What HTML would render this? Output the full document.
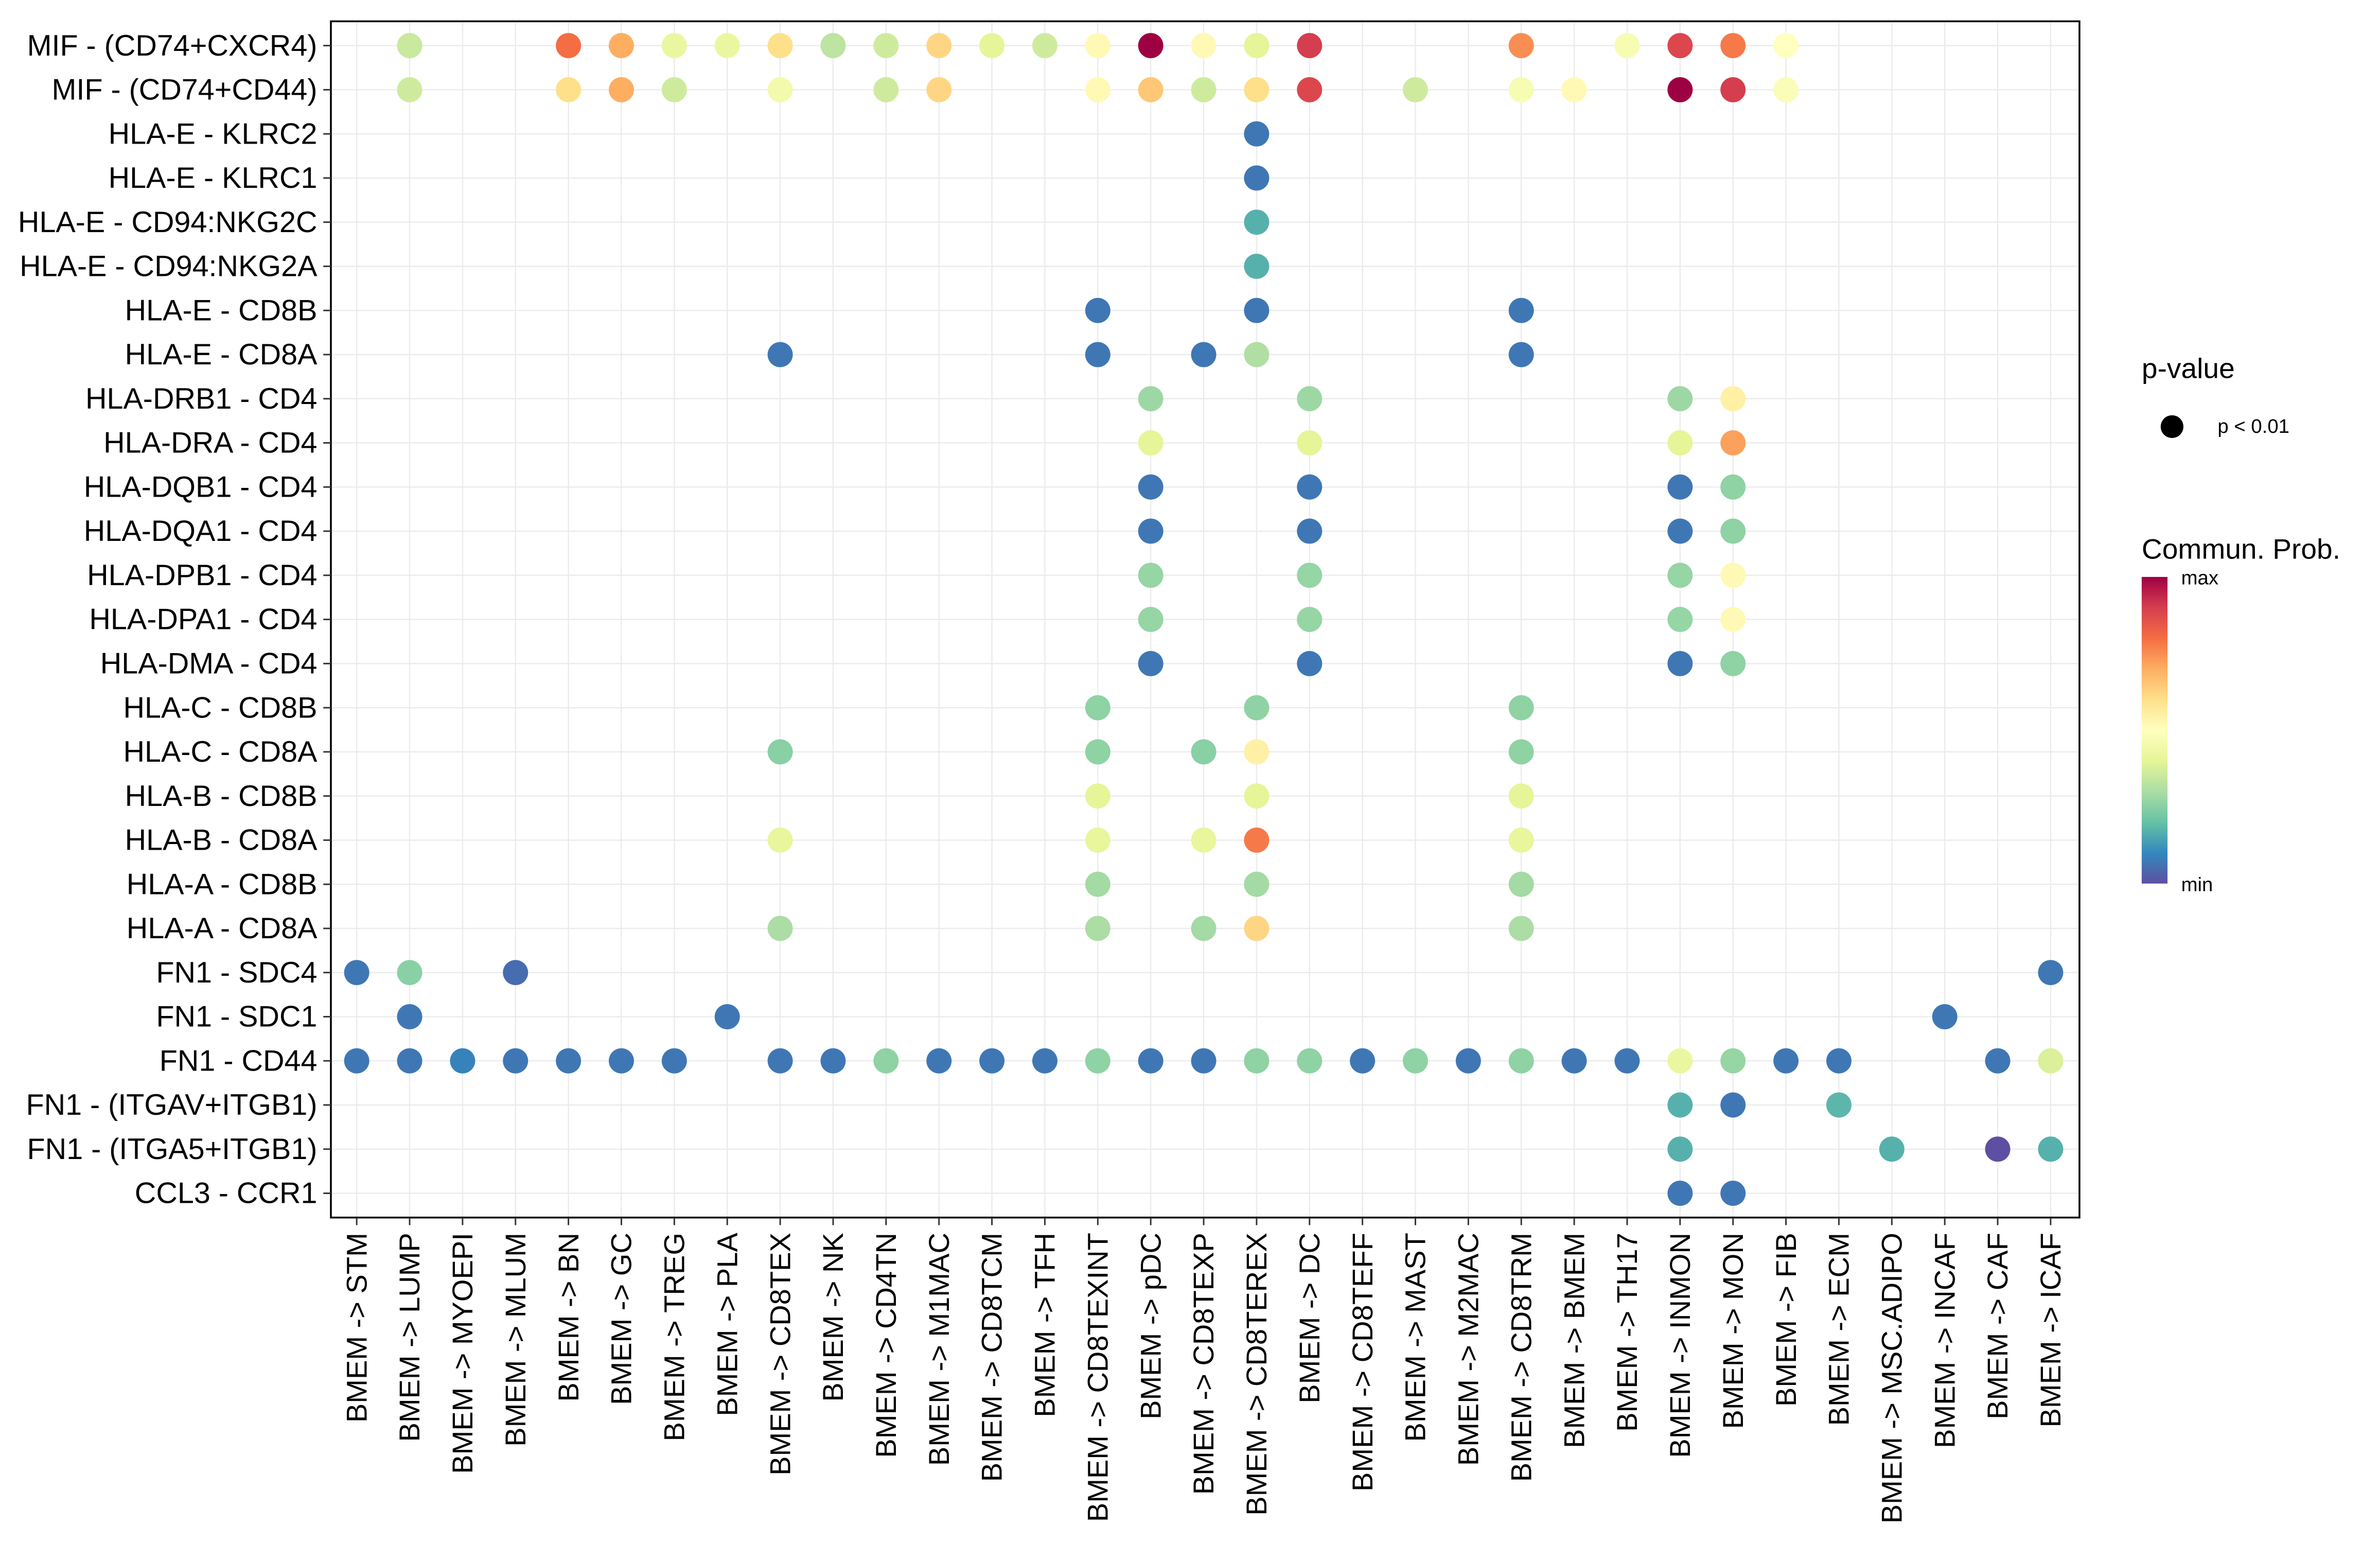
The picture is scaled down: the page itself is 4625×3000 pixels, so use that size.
<!DOCTYPE html>
<html><head><meta charset="utf-8">
<style>
html,body{margin:0;padding:0;background:#fff;}
svg{display:block;font-family:"Liberation Sans",Arial,sans-serif;}
</style></head>
<body>
<svg id="chart" width="4625" height="3000" viewBox="0 0 1568 1017" xmlns="http://www.w3.org/2000/svg">
<rect x="0" y="0" width="1568" height="1017" fill="#fff"/>
<g id="grid"></g>
<g id="dots"></g>
<rect x="218" y="14" width="1152" height="788" fill="none" stroke="#000" stroke-width="1.2"/>
<g id="ylabels"></g>
<g id="xlabels"></g>
<g>
  <text x="1411" y="249" font-size="18.7">p-value</text>
  <circle cx="1431" cy="281" r="7.5" fill="#000"/>
  <text x="1461" y="285" font-size="13">p &lt; 0.01</text>
  <text x="1411" y="368" font-size="18.7">Commun. Prob.</text>
  <defs><linearGradient id="cb" x1="0" y1="1" x2="0" y2="0">
    <stop offset="0" stop-color="#5E4FA2"/><stop offset="0.1" stop-color="#3288BD"/>
    <stop offset="0.2" stop-color="#66C2A5"/><stop offset="0.3" stop-color="#ABDDA4"/>
    <stop offset="0.4" stop-color="#E6F598"/><stop offset="0.5" stop-color="#FFFFBF"/>
    <stop offset="0.6" stop-color="#FEE08B"/><stop offset="0.7" stop-color="#FDAE61"/>
    <stop offset="0.8" stop-color="#F46D43"/><stop offset="0.9" stop-color="#D53E4F"/>
    <stop offset="1" stop-color="#9E0142"/></linearGradient></defs>
  <rect x="1411" y="380" width="17" height="202" fill="url(#cb)"/>
  <text x="1437" y="385" font-size="13">max</text>
  <text x="1437" y="587" font-size="13">min</text>
</g>
<script>
const pathways = ["MIF - (CD74+CXCR4)","MIF - (CD74+CD44)","HLA-E - KLRC2","HLA-E - KLRC1","HLA-E - CD94:NKG2C","HLA-E - CD94:NKG2A","HLA-E - CD8B","HLA-E - CD8A","HLA-DRB1 - CD4","HLA-DRA - CD4","HLA-DQB1 - CD4","HLA-DQA1 - CD4","HLA-DPB1 - CD4","HLA-DPA1 - CD4","HLA-DMA - CD4","HLA-C - CD8B","HLA-C - CD8A","HLA-B - CD8B","HLA-B - CD8A","HLA-A - CD8B","HLA-A - CD8A","FN1 - SDC4","FN1 - SDC1","FN1 - CD44","FN1 - (ITGAV+ITGB1)","FN1 - (ITGA5+ITGB1)","CCL3 - CCR1"];
const targets = ["STM","LUMP","MYOEPI","MLUM","BN","GC","TREG","PLA","CD8TEX","NK","CD4TN","M1MAC","CD8TCM","TFH","CD8TEXINT","pDC","CD8TEXP","CD8TEREX","DC","CD8TEFF","MAST","M2MAC","CD8TRM","BMEM","TH17","INMON","MON","FIB","ECM","MSC.ADIPO","INCAF","CAF","ICAF"];
const rowTargets = [
 ["LUMP","BN","GC","TREG","PLA","CD8TEX","NK","CD4TN","M1MAC","CD8TCM","TFH","CD8TEXINT","pDC","CD8TEXP","CD8TEREX","DC","CD8TRM","TH17","INMON","MON","FIB"],
 ["LUMP","BN","GC","TREG","CD8TEX","CD4TN","M1MAC","CD8TEXINT","pDC","CD8TEXP","CD8TEREX","DC","MAST","CD8TRM","BMEM","INMON","MON","FIB"],
 ["CD8TEREX"],["CD8TEREX"],["CD8TEREX"],["CD8TEREX"],
 ["CD8TEXINT","CD8TEREX","CD8TRM"],
 ["CD8TEX","CD8TEXINT","CD8TEXP","CD8TEREX","CD8TRM"],
 ["pDC","DC","INMON","MON"],["pDC","DC","INMON","MON"],["pDC","DC","INMON","MON"],["pDC","DC","INMON","MON"],
 ["pDC","DC","INMON","MON"],["pDC","DC","INMON","MON"],["pDC","DC","INMON","MON"],
 ["CD8TEXINT","CD8TEREX","CD8TRM"],
 ["CD8TEX","CD8TEXINT","CD8TEXP","CD8TEREX","CD8TRM"],
 ["CD8TEXINT","CD8TEREX","CD8TRM"],
 ["CD8TEX","CD8TEXINT","CD8TEXP","CD8TEREX","CD8TRM"],
 ["CD8TEXINT","CD8TEREX","CD8TRM"],
 ["CD8TEX","CD8TEXINT","CD8TEXP","CD8TEREX","CD8TRM"],
 ["STM","LUMP","MLUM","ICAF"],
 ["LUMP","PLA","INCAF"],
 ["STM","LUMP","MYOEPI","MLUM","BN","GC","TREG","CD8TEX","NK","CD4TN","M1MAC","CD8TCM","TFH","CD8TEXINT","pDC","CD8TEXP","CD8TEREX","DC","CD8TEFF","MAST","M2MAC","CD8TRM","BMEM","TH17","INMON","MON","FIB","ECM","CAF","ICAF"],
 ["INMON","MON","ECM"],
 ["INMON","MSC.ADIPO","CAF","ICAF"],
 ["INMON","MON"]
];
const rowProbs = [
 [0.35,0.80,0.70,0.42,0.42,0.60,0.33,0.36,0.62,0.40,0.36,0.52,1.00,0.52,0.40,0.90,0.75,0.47,0.88,0.78,0.50],
 [0.36,0.60,0.70,0.36,0.45,0.36,0.62,0.52,0.65,0.36,0.60,0.88,0.36,0.47,0.52,1.00,0.90,0.48],
 [0.07],[0.07],[0.17],[0.17],
 [0.07,0.07,0.07],
 [0.07,0.07,0.07,0.31,0.07],
 [0.28,0.28,0.28,0.55],[0.40,0.40,0.40,0.72],[0.07,0.07,0.07,0.26],[0.07,0.07,0.07,0.26],
 [0.27,0.27,0.27,0.52],[0.27,0.27,0.27,0.52],[0.07,0.07,0.07,0.26],
 [0.26,0.26,0.26],
 [0.25,0.26,0.25,0.55,0.26],
 [0.40,0.40,0.40],
 [0.41,0.41,0.41,0.78,0.41],
 [0.29,0.29,0.29],
 [0.30,0.30,0.29,0.62,0.30],
 [0.07,0.25,0.05,0.07],
 [0.07,0.07,0.07],
 [0.07,0.07,0.09,0.07,0.07,0.07,0.07,0.07,0.07,0.26,0.07,0.07,0.07,0.26,0.07,0.07,0.26,0.26,0.07,0.26,0.07,0.26,0.07,0.07,0.42,0.27,0.07,0.07,0.07,0.38],
 [0.17,0.07,0.18],
 [0.17,0.17,0.00,0.17],
 [0.07,0.07]
];
const NS="http://www.w3.org/2000/svg";
const x0=235,x1=1351,y0=30,y1=786;
function xScale(name){return x0+(x1-x0)*targets.indexOf(name)/(targets.length-1);}
function yScale(name){return y0+(y1-y0)*pathways.indexOf(name)/(pathways.length-1);}
const stops=["#5E4FA2","#3288BD","#66C2A5","#ABDDA4","#E6F598","#FFFFBF","#FEE08B","#FDAE61","#F46D43","#D53E4F","#9E0142"].map(h=>[1,3,5].map(i=>parseInt(h.substr(i,2),16)));
function color(v){v=Math.max(0,Math.min(1,v));const p=v*10,i=Math.min(9,Math.floor(p)),t=p-i;
 const c=stops[i].map((a,k)=>Math.round(a+(stops[i+1][k]-a)*t));return `rgb(${c})`;}
const grid=document.getElementById('grid'),dots=document.getElementById('dots'),yl=document.getElementById('ylabels'),xl=document.getElementById('xlabels');
targets.forEach(t=>{const x=xScale(t);
 const l=document.createElementNS(NS,'line');l.setAttribute('x1',x);l.setAttribute('x2',x);l.setAttribute('y1',14);l.setAttribute('y2',802);l.setAttribute('stroke','#ebebeb');l.setAttribute('stroke-width','0.8');
 
 
 grid.appendChild(l);
 const k=document.createElementNS(NS,'line');k.setAttribute('x1',x);k.setAttribute('x2',x);k.setAttribute('y1',802);k.setAttribute('y2',807);k.setAttribute('stroke','#333');
 
 
 xl.appendChild(k);
 const tx=document.createElementNS(NS,'text');tx.setAttribute('transform',`translate(${x+6.5},812) rotate(-90)`);tx.setAttribute('text-anchor','end');tx.setAttribute('font-size','19');tx.textContent='BMEM -> '+t;
 
 
 xl.appendChild(tx);});
pathways.forEach(p=>{const y=yScale(p);
 const l=document.createElementNS(NS,'line');l.setAttribute('x1',218);l.setAttribute('x2',1370);l.setAttribute('y1',y);l.setAttribute('y2',y);l.setAttribute('stroke','#ebebeb');l.setAttribute('stroke-width','0.8');
 
 
 grid.appendChild(l);
 const k=document.createElementNS(NS,'line');k.setAttribute('x1',213);k.setAttribute('x2',218);k.setAttribute('y1',y);k.setAttribute('y2',y);k.setAttribute('stroke','#333');
 
 
 yl.appendChild(k);
 const tx=document.createElementNS(NS,'text');tx.setAttribute('x',209);tx.setAttribute('y',y+6.5);tx.setAttribute('text-anchor','end');tx.setAttribute('font-size','19.5');tx.textContent=p;
 
 
 yl.appendChild(tx);});
rowTargets.forEach((ts,r)=>{ts.forEach((t,j)=>{
 const c=document.createElementNS(NS,'circle');c.setAttribute('cx',xScale(t));c.setAttribute('cy',yScale(pathways[r]));c.setAttribute('r',8.3);c.setAttribute('fill',color(rowProbs[r][j]));
 
 
 dots.appendChild(c);});});
</script>
</svg>
</body></html>
